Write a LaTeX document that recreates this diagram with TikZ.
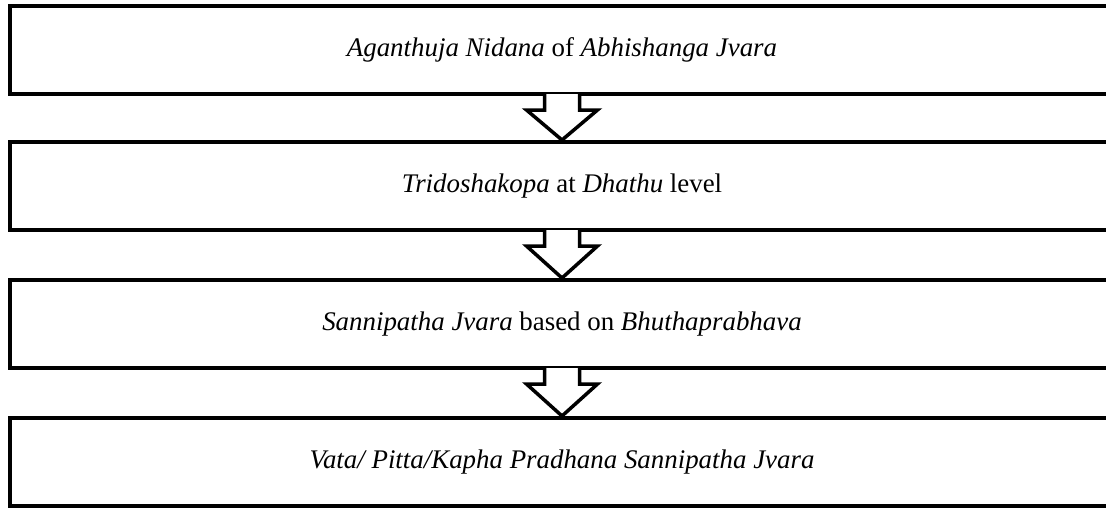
\documentclass[tikz,border=0pt]{standalone}
\usepackage{fontspec}
\setmainfont{Liberation Serif}
\tikzset{
  stage/.style={draw, rectangle, line width=0.08cm, minimum width=22.08cm, minimum height=1.76cm, inner sep=0pt, font=\fontsize{15.3}{18}\selectfont},
  flowarrow/.style={draw, fill=white, line width=0.07cm, line join=miter}
}
\newcommand{\stagearrow}[2]{%
\path[flowarrow] ([shift={(-0.35,0.04)}]#1.south) -- ++(0,-0.32) -- ++(-0.36,0) -- (#2.north)
  -- ([shift={(0.71,-0.28)}]#1.south) -- ++(-0.36,0) -- ([shift={(0.35,0.04)}]#1.south);}
\begin{document}
\begin{tikzpicture}
\useasboundingbox (0,0) rectangle (22.12,-10.16);
\node[stage] (nidana) at (11.24,-1.0) {\textit{Aganthuja Nidana} of \textit{Abhishanga Jvara}};
\node[stage] (dhathu) at (11.24,-3.72) {\textit{Tridoshakopa} at \textit{Dhathu} level};
\node[stage] (bhutha) at (11.24,-6.48) {\textit{Sannipatha Jvara} based on \textit{Bhuthaprabhava}};
\node[stage] (pradhana) at (11.24,-9.24) {\textit{Vata/ Pitta/Kapha Pradhana Sannipatha Jvara}};

\stagearrow{nidana}{dhathu}
\stagearrow{dhathu}{bhutha}
\stagearrow{bhutha}{pradhana}
\end{tikzpicture}
\end{document}
